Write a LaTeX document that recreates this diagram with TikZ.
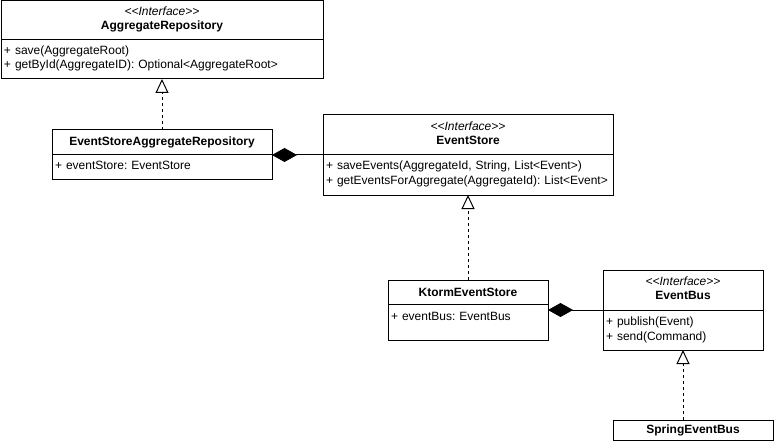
\documentclass[tikz,border=0pt]{standalone}
\usepackage{fontspec}
\setmainfont{Liberation Sans}
\usetikzlibrary{positioning,arrows.meta}
\frenchspacing

\begin{document}
\begin{tikzpicture}[x=1pt, y=-1pt, line width=1pt,
	head/.style={draw, align=center, inner sep=0pt, outer sep=0pt, font=\fontsize{12}{14}\selectfont},
	iface/.style={head, text height=15.5pt, text depth=24.5pt},
	body/.style={draw, align=left, inner xsep=3pt, inner ysep=0pt, outer sep=0pt, text height=14.5pt, font=\fontsize{12}{14.5}\selectfont},
	realize/.style={dashed, arrows={-Triangle[open, length=14pt, width=13pt]}},
	compose/.style={arrows={Diamond[length=25pt, width=14pt]-}}]

		\useasboundingbox (0,0) rectangle (774,441);

		\node[iface, text width=322pt, text height=14.5pt] (aggRepo) at (162,20.5) {\textit{<{}<Interface>{}>}\\\textbf{AggregateRepository}};
		\node[body, text width=316pt, text depth=24.5pt] (aggRepoBody) [below=0pt of aggRepo] {+ save(AggregateRoot)\\+ getById(AggregateID): Optional<AggregateRoot>};

		\node[head, minimum width=220pt, minimum height=25pt] (esAggRepo) at (162,142.5) {\textbf{EventStoreAggregateRepository}};
		\node[body, text width=214pt, text depth=10.5pt] (esAggRepoBody) [below=0pt of esAggRepo] {+ eventStore: EventStore};

		\node[iface, text width=290pt] (eventStore) at (468,135) {\textit{<{}<Interface>{}>}\\\textbf{EventStore}};
		\node[body, text width=284pt, text depth=25.5pt] (eventStoreBody) [below=0pt of eventStore] {+ saveEvents(AggregateId, String, List<Event>)\\+ getEventsForAggregate(AggregateId): List<Event>};

		\node[head, minimum width=160pt, minimum height=24pt] (ktorm) at (468,292) {\textbf{KtormEventStore}};
		\node[body, text width=154pt, text height=16.5pt, text depth=19.5pt] (ktormBody) [below=0pt of ktorm] {+ eventBus: EventBus};

		\node[iface, text width=160pt] (eventBus) at (683,290) {\textit{<{}<Interface>{}>}\\\textbf{EventBus}};
		\node[body, text width=154pt, text height=15.5pt, text depth=24.5pt] (eventBusBody) [below=0pt of eventBus] {+ publish(Event)\\+ send(Command)};

		\node[head, minimum width=160pt, minimum height=20pt] (springBus) at (693,430) {\textbf{SpringEventBus}};

		\draw[realize] (esAggRepo.north) -- (aggRepoBody.south);
		\draw[realize] (ktorm.north) -- (eventStoreBody.south);
		\draw[realize] (eventBusBody.south |- springBus.north) -- (eventBusBody.south);
		\draw[compose] (esAggRepo.south east) -- (eventStore.south west);
		\draw[compose] (ktormBody.east |- eventBus.south) -- (eventBus.south west);

\end{tikzpicture}
\end{document}
